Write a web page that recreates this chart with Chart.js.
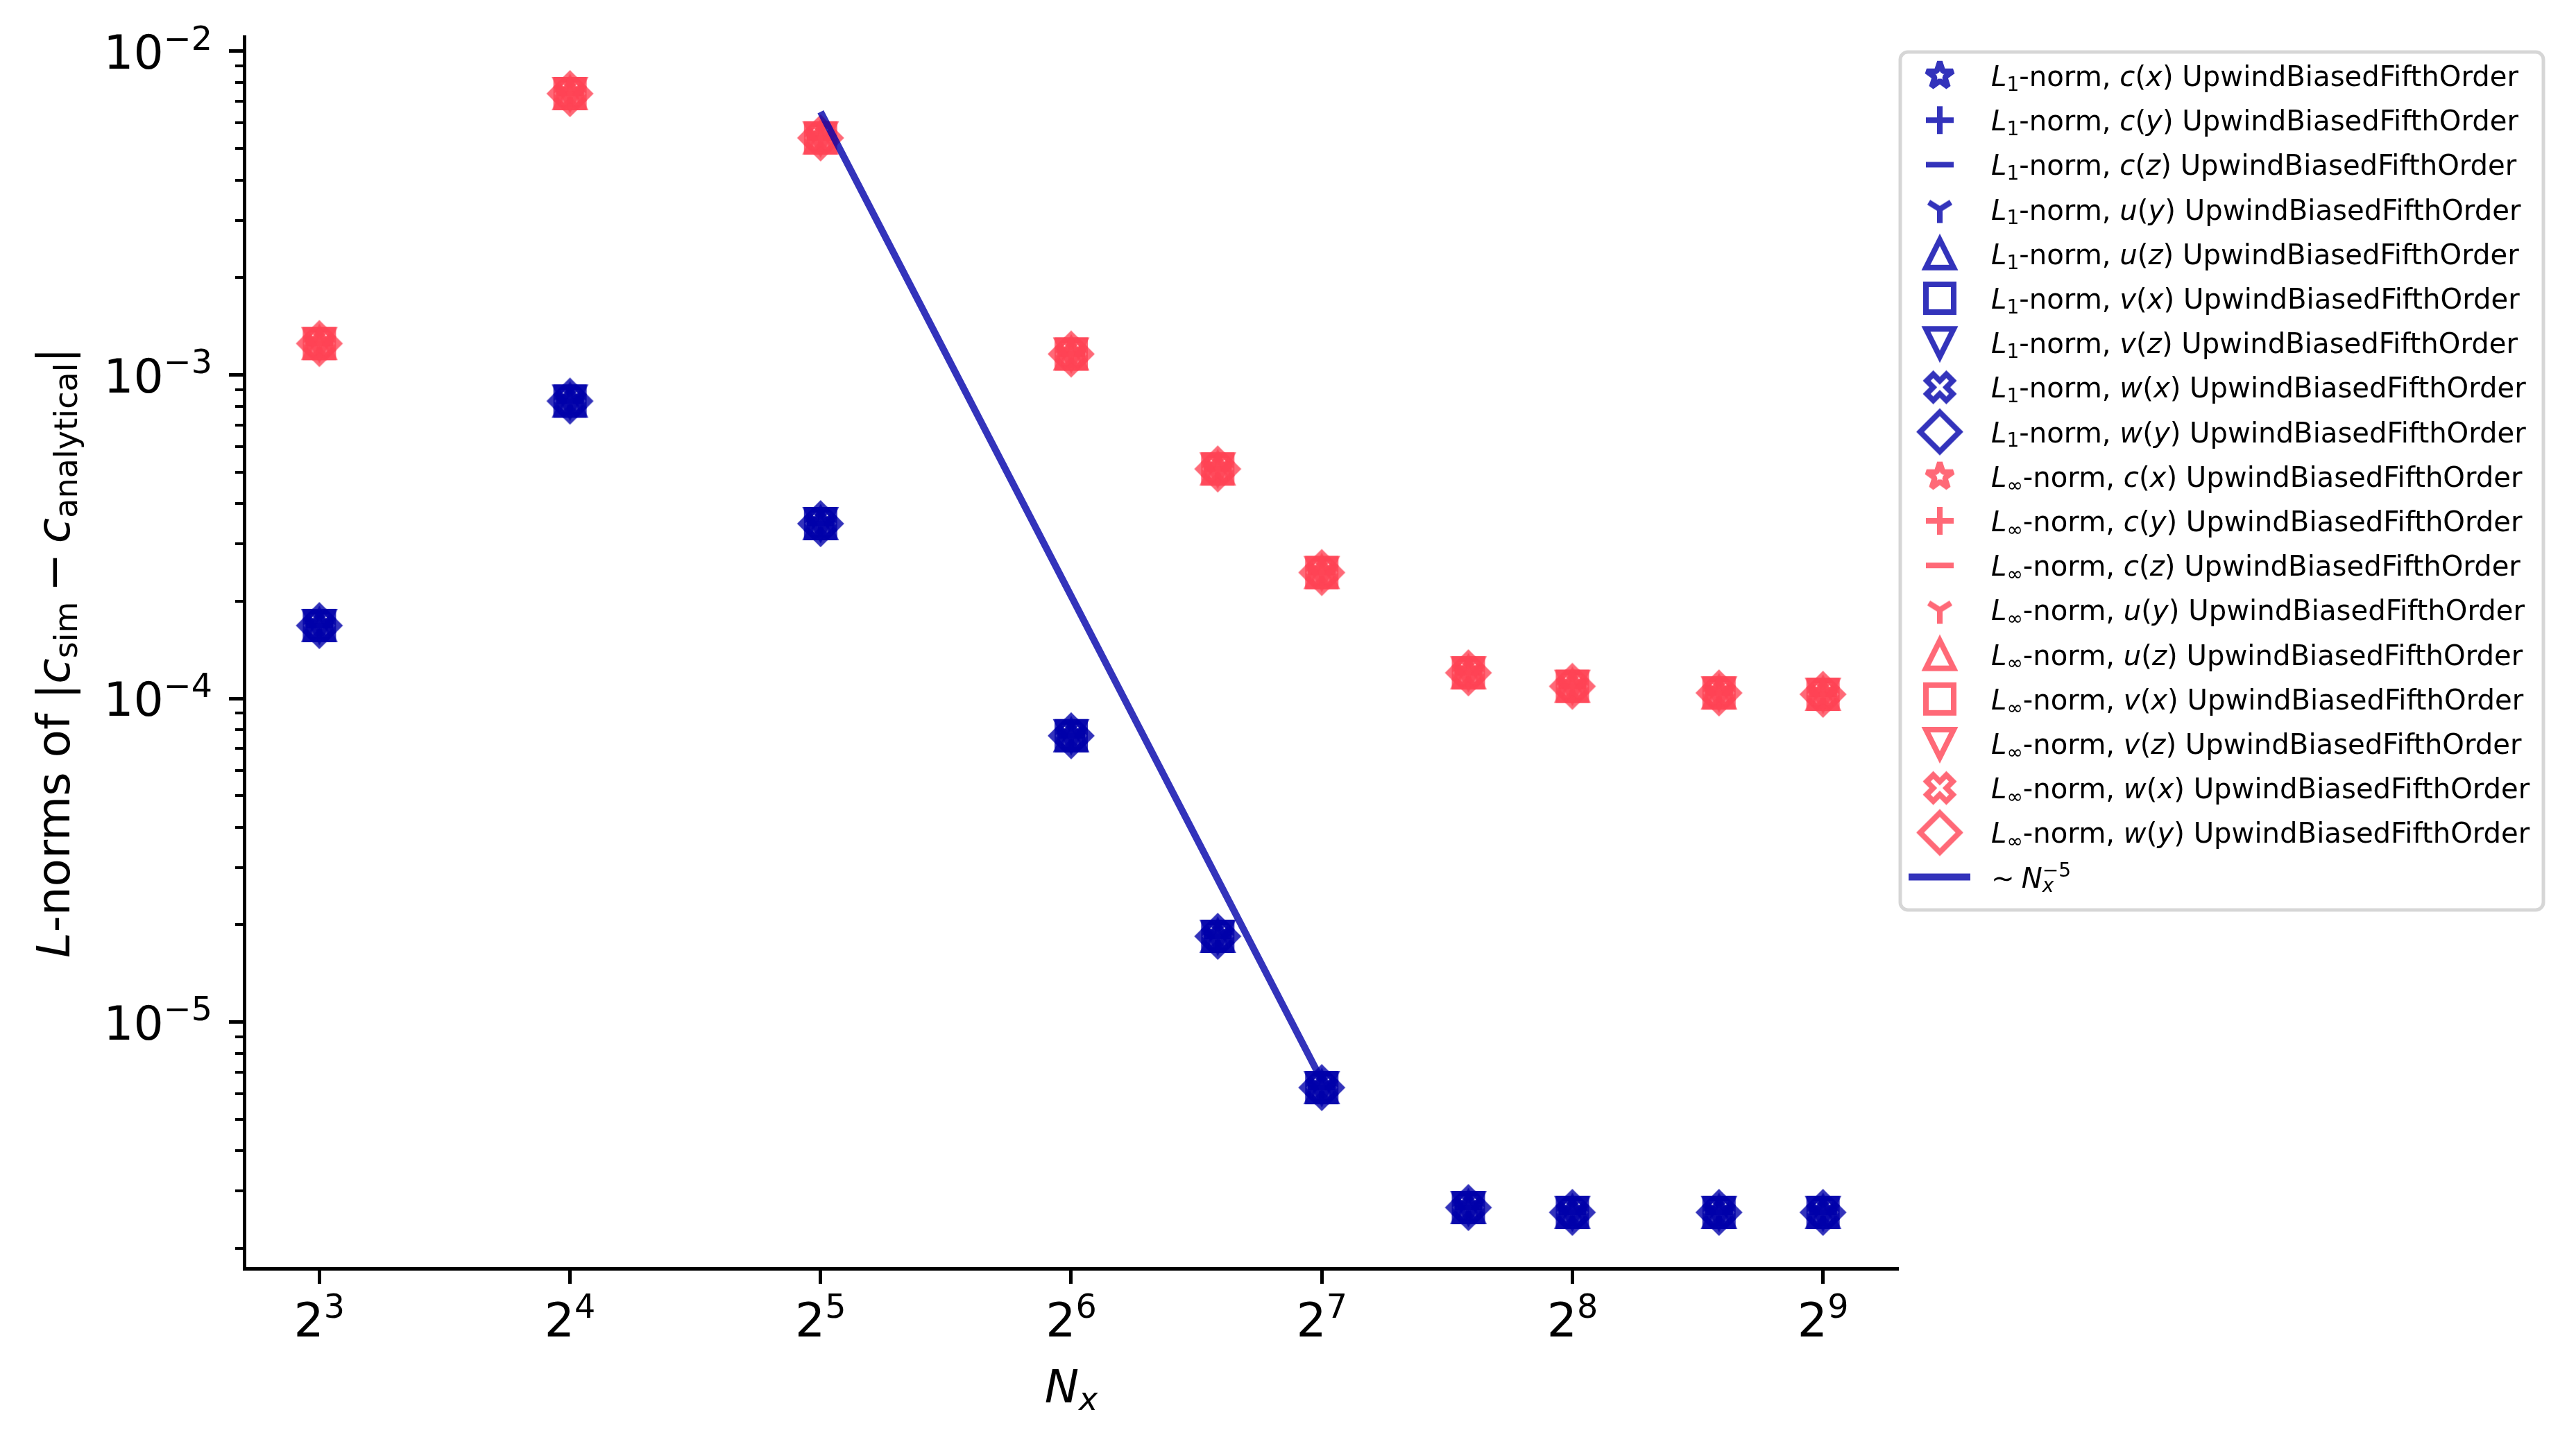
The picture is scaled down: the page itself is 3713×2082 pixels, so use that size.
<!DOCTYPE html>
<html>
<head>
<meta charset="utf-8">
<script src="https://cdn.jsdelivr.net/npm/chart.js@4/dist/chart.umd.min.js"></script>
<style>
  html, body { margin: 0; padding: 0; background: #fff; }
  canvas { display: block; }
</style>
</head>
<body>
<canvas id="convergence" width="3713" height="2082" style="width:3713px;height:2082px"></canvas>
<script>
// grid sizes and error norms
const nx = [8, 16, 32, 64, 96, 128, 192, 256, 384, 512];
const l1Err = [1.68e-4, 8.3e-4, 3.47e-4, 7.67e-5, 1.84e-5, 6.27e-6, 2.67e-6, 2.58e-6, 2.58e-6, 2.58e-6];
const linfErr = [1.25e-3, 7.4e-3, 5.4e-3, 1.16e-3, 5.12e-4, 2.45e-4, 1.2e-4, 1.09e-4, 1.04e-4, 1.03e-4];
const fitNx = [32, 128];
const fitErr = [6.5e-3, 6.6e-6];

const fields = ["c", "c", "c", "u", "u", "v", "v", "w", "w"];
const dirs = ["x", "y", "z", "y", "z", "x", "z", "x", "y"];
const shapes = ["star", "plus", "hline", "tri_down", "triangle_up", "square", "triangle_down", "x_filled", "diamond"];
const norms = ["1", "∞"];
const scheme = "UpwindBiasedFifthOrder";
const xTickExp = [3, 4, 5, 6, 7, 8, 9];
const yTickExp = [-5, -4, -3, -2];

const normColors = ["rgba(0,0,170,0.8)", "rgba(255,68,85,0.8)"];
const fitColor = "rgba(0,0,170,0.8)";
const FONT = '"DejaVu Sans"';

// matplotlib-like unfilled markers, drawn once and used as point images
const MS = 40, MEW = 8;
function markerCanvas(shape, color) {
  const c = document.createElement("canvas");
  c.width = c.height = 80;
  const g = c.getContext("2d");
  g.translate(40, 40);
  g.strokeStyle = color;
  g.lineWidth = MEW;
  g.lineCap = "butt";
  g.lineJoin = "miter";
  const r = MS / 2;
  g.beginPath();
  if (shape === "star") {
    g.lineJoin = "bevel";
    for (let k = 0; k < 10; k++) {
      const a = -Math.PI / 2 + (k * Math.PI) / 5;
      const rr = k % 2 ? r * 0.381966 : r;
      if (k === 0) g.moveTo(rr * Math.cos(a), rr * Math.sin(a));
      else g.lineTo(rr * Math.cos(a), rr * Math.sin(a));
    }
    g.closePath();
  } else if (shape === "plus") {
    g.moveTo(-r, 0); g.lineTo(r, 0);
    g.moveTo(0, -r); g.lineTo(0, r);
  } else if (shape === "hline") {
    g.moveTo(-r, 0); g.lineTo(r, 0);
  } else if (shape === "tri_down") {
    g.moveTo(0, 0); g.lineTo(0, r);
    g.moveTo(0, 0); g.lineTo(-0.8 * r, -0.5 * r);
    g.moveTo(0, 0); g.lineTo(0.8 * r, -0.5 * r);
  } else if (shape === "triangle_up") {
    g.moveTo(0, -r); g.lineTo(-r, r); g.lineTo(r, r); g.closePath();
  } else if (shape === "triangle_down") {
    g.moveTo(0, r); g.lineTo(-r, -r); g.lineTo(r, -r); g.closePath();
  } else if (shape === "square") {
    g.rect(-r, -r, 2 * r, 2 * r);
  } else if (shape === "x_filled") {
    const pts = [[-1, -3], [1, -3], [1, -1], [3, -1], [3, 1], [1, 1], [1, 3], [-1, 3], [-1, 1], [-3, 1], [-3, -1], [-1, -1]];
    const cs = Math.SQRT1_2;
    pts.forEach(([px, py], k) => {
      const u = (px / 6) * MS, v = (py / 6) * MS;
      const qx = u * cs - v * cs, qy = u * cs + v * cs;
      if (k === 0) g.moveTo(qx, qy); else g.lineTo(qx, qy);
    });
    g.closePath();
  } else if (shape === "diamond") {
    const d = MS * Math.SQRT1_2;
    g.moveTo(0, -d); g.lineTo(d, 0); g.lineTo(0, d); g.lineTo(-d, 0); g.closePath();
  }
  g.stroke();
  return c;
}

// rich text: segments {t, i: italic, sub, sup, back: stack on previous, sp: em gap}
function layoutRich(ctx, segs, size) {
  let x = 0, prevStart = 0;
  const items = [];
  segs.forEach((s) => {
    if (s.sp) { x += s.sp * size; return; }
    const sz = s.sub || s.sup ? size * 0.7 : size;
    const font = (s.i ? "italic " : "") + sz.toFixed(1) + "px " + FONT;
    ctx.font = font;
    const sx = s.back ? prevStart : x;
    const w = ctx.measureText(s.t).width;
    prevStart = sx;
    x = Math.max(x, sx + w);
    const dy = s.sub ? size * 0.17 : s.sup ? -size * 0.4 : 0;
    items.push({ t: s.t, x: sx, dy, font });
  });
  return { items, width: x };
}
function drawRich(ctx, segs, x, y, size, align) {
  const lay = layoutRich(ctx, segs, size);
  let x0 = x;
  if (align === "center") x0 = x - lay.width / 2;
  else if (align === "right") x0 = x - lay.width;
  ctx.textAlign = "left";
  ctx.textBaseline = "alphabetic";
  lay.items.forEach((it) => {
    ctx.font = it.font;
    ctx.fillText(it.t, x0 + it.x, y + it.dy);
  });
}

function legendLabel(ni, si) {
  return [
    { t: "L", i: 1 }, { t: norms[ni], sub: 1 }, { t: "-norm, " },
    { t: fields[si], i: 1 }, { t: "(" }, { t: dirs[si], i: 1 }, { t: ")" },
    { t: " " + scheme },
  ];
}

const datasets = [];
norms.forEach((n, ni) => {
  const vals = ni === 0 ? l1Err : linfErr;
  shapes.forEach((shape, si) => {
    datasets.push({
      label: "L" + n + "-norm, " + fields[si] + "(" + dirs[si] + ") " + scheme,
      data: nx.map((x, i) => ({ x: x, y: vals[i] })),
      pointStyle: markerCanvas(shape, normColors[ni]),
      pointRadius: 20,
      showLine: false,
      order: 1,
    });
  });
});
datasets.push({
  label: "~Nx^-5",
  data: fitNx.map((x, i) => ({ x: x, y: fitErr[i] })),
  showLine: true,
  borderColor: fitColor,
  borderWidth: 10,
  pointRadius: 0,
  order: 0,
});

const decorations = {
  id: "decorations",
  afterDraw(chart) {
    const ctx = chart.ctx;
    const xs = chart.scales.x, ys = chart.scales.y, area = chart.chartArea;
    ctx.save();

    // minor y ticks
    ctx.strokeStyle = "#000";
    ctx.lineWidth = 4;
    for (let e = -6; e <= -2; e++) {
      for (let m = 2; m <= 9; m++) {
        const v = m * Math.pow(10, e);
        if (v < ys.min || v > ys.max) continue;
        const py = Math.round(ys.getPixelForValue(v));
        ctx.beginPath();
        ctx.moveTo(area.left, py);
        ctx.lineTo(area.left - 13, py);
        ctx.stroke();
      }
    }

    // tick labels
    ctx.fillStyle = "#000";
    yTickExp.forEach((e) => {
      const py = ys.getPixelForValue(Math.pow(10, e));
      drawRich(ctx, [{ t: "10" }, { t: "−" + -e, sup: 1 }], area.left - 46, py + 25, 68, "right");
    });
    xTickExp.forEach((e) => {
      const px = xs.getPixelForValue(Math.pow(2, e));
      drawRich(ctx, [{ t: "2" }, { t: String(e), sup: 1 }], px, area.bottom + 98, 68, "center");
    });

    // axis titles
    drawRich(ctx, [{ t: "N", i: 1 }, { t: "x", i: 1, sub: 1 }], (area.left + area.right) / 2, 2022, 66, "center");
    ctx.save();
    ctx.translate(100, (area.top + area.bottom) / 2);
    ctx.rotate(-Math.PI / 2);
    drawRich(ctx, [
      { t: "L", i: 1 }, { t: "-norms of " }, { t: "|" },
      { t: "c", i: 1 }, { t: "sim", sub: 1 }, { sp: 0.22 }, { t: "−" }, { sp: 0.22 },
      { t: "c", i: 1 }, { t: "analytical", sub: 1 }, { t: "|" },
    ], 0, 0, 66, "center");
    ctx.restore();

    // legend box
    const bx = 2739, by = 75, bw = 927, bh = 1237, rad = 11;
    ctx.beginPath();
    ctx.moveTo(bx + rad, by);
    ctx.arcTo(bx + bw, by, bx + bw, by + bh, rad);
    ctx.arcTo(bx + bw, by + bh, bx, by + bh, rad);
    ctx.arcTo(bx, by + bh, bx, by, rad);
    ctx.arcTo(bx, by, bx + bw, by, rad);
    ctx.closePath();
    ctx.fillStyle = "rgba(255,255,255,0.8)";
    ctx.fill();
    ctx.strokeStyle = "rgba(204,204,204,0.8)";
    ctx.lineWidth = 5;
    ctx.stroke();

    const rowY0 = 109, rowStep = 64.2, markX = 2796, textX = 2870, fs = 40.2;
    ctx.fillStyle = "#000";
    norms.forEach((n, ni) => {
      shapes.forEach((shape, si) => {
        const k = ni * shapes.length + si;
        const cy = rowY0 + k * rowStep;
        const img = chart.data.datasets[k].pointStyle;
        ctx.drawImage(img, markX - img.width / 2, cy - img.height / 2);
        drawRich(ctx, legendLabel(ni, si), textX, cy + 15, fs, "left");
      });
    });
    const ly = rowY0 + norms.length * shapes.length * rowStep;
    ctx.strokeStyle = fitColor;
    ctx.lineWidth = 10;
    ctx.beginPath();
    ctx.moveTo(2751, ly);
    ctx.lineTo(2840, ly);
    ctx.stroke();
    drawRich(ctx, [
      { t: "∼" }, { sp: 0.25 }, { t: "N", i: 1 }, { t: "x", i: 1, sub: 1 }, { t: "−5", sup: 1, back: 1 },
    ], textX, ly + 15, fs, "left");

    ctx.restore();
  },
};

new Chart(document.getElementById("convergence"), {
  type: "scatter",
  data: { datasets: datasets },
  options: {
    responsive: false,
    animation: false,
    devicePixelRatio: 1,
    events: [],
    layout: { padding: { left: 0, top: 53, right: 977, bottom: 0 }, autoPadding: false },
    plugins: { legend: { display: false }, tooltip: { enabled: false } },
    datasets: { scatter: { clip: false } },
    scales: {
      x: {
        type: "logarithmic",
        bounds: "data",
        min: Math.pow(2, 2.7),
        max: Math.pow(2, 9.3),
        afterBuildTicks: (s) => { s.ticks = xTickExp.map((e) => ({ value: Math.pow(2, e) })); },
        afterFit: (s) => { s.height = 253; },
        grid: { display: true, drawOnChartArea: false, drawTicks: true, tickLength: 22, tickWidth: 5, tickColor: "#000" },
        border: { display: true, color: "#000", width: 5 },
        ticks: { display: false },
      },
      y: {
        type: "logarithmic",
        bounds: "data",
        min: Math.pow(10, -5.762),
        max: Math.pow(10, -1.955),
        afterBuildTicks: (s) => { s.ticks = yTickExp.map((e) => ({ value: Math.pow(10, e), major: true })); },
        afterFit: (s) => { s.width = 352; },
        grid: { display: true, drawOnChartArea: false, drawTicks: true, tickLength: 22, tickWidth: 5, tickColor: "#000" },
        border: { display: true, color: "#000", width: 5 },
        ticks: { display: false },
      },
    },
  },
  plugins: [decorations],
});
</script>
</body>
</html>
